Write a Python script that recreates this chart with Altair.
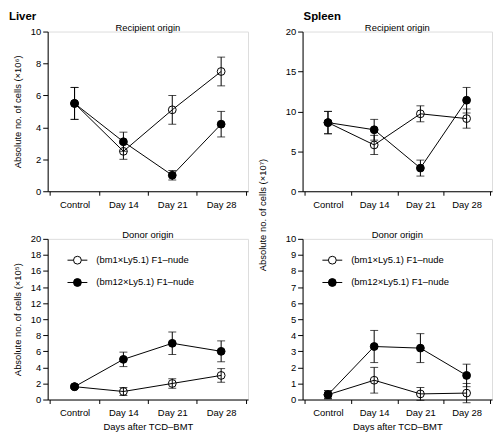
import altair as alt
import pandas as pd

# ---------------- data ----------------
categories = ["Control", "Day 14", "Day 21", "Day 28"]
series_names = ["open", "filled"]
legend_labels = ["(bm1×Ly5.1) F1–nude", "(bm12×Ly5.1) F1–nude"]

# Liver, recipient origin (x10^6)
liver_rec_open = [5.5, 2.5, 5.1, 7.5]
liver_rec_open_err = [1.0, 0.5, 0.9, 0.9]
liver_rec_filled = [5.5, 3.1, 1.0, 4.2]
liver_rec_filled_err = [1.0, 0.6, 0.3, 0.8]

# Spleen, recipient origin (x10^7)
spleen_rec_open = [8.6, 5.8, 9.7, 9.1]
spleen_rec_open_err = [1.4, 1.2, 1.0, 1.2]
spleen_rec_filled = [8.6, 7.7, 2.9, 11.4]
spleen_rec_filled_err = [1.4, 1.3, 1.0, 1.6]

# Liver, donor origin (x10^5)
liver_don_open = [1.6, 1.0, 2.0, 3.0]
liver_don_open_err = [0.2, 0.5, 0.6, 0.85]
liver_don_filled = [1.6, 5.0, 7.0, 6.0]
liver_don_filled_err = [0.2, 0.9, 1.4, 1.3]

# Spleen, donor origin
spleen_don_open = [0.3, 1.2, 0.35, 0.4]
spleen_don_open_err = [0.25, 0.8, 0.4, 0.6]
spleen_don_filled = [0.3, 3.3, 3.2, 1.5]
spleen_don_filled_err = [0.25, 1.0, 0.9, 0.7]

FONT = "Liberation Sans"
FS = 9.5
W_LEFT, W_RIGHT = 202, 191
H_TOP, H_BOTTOM = 161, 162
ROW_GAP, COL_GAP = 48, 55


def make_df(ov, oe, fv, fe):
    rows = []
    for name, vals, errs in (("open", ov, oe), ("filled", fv, fe)):
        for c, v, e in zip(categories, vals, errs):
            rows.append({"cat": c, "series": name, "val": v, "lo": v - e, "hi": v + e})
    return pd.DataFrame(rows)


def text_layer(txt, x, y, **kw):
    return alt.Chart(pd.DataFrame({"t": [txt]})).mark_text(
        font=FONT, color="black", **kw
    ).encode(text="t:N", x=alt.value(x), y=alt.value(y))


def panel(df, ymax, ystep, width, height, ytitle, xtitle, header, header_x, subtitle, legend):
    common = dict(grid=False, labelFont=FONT, titleFont=FONT, labelFontSize=FS,
                  titleFontSize=FS, labelColor="black", titleColor="black",
                  domainColor="black", tickColor="black", titleFontWeight="normal")
    x_axis = alt.Axis(labelAngle=0, tickBand="extent", tickSize=4, labelPadding=4,
                      titlePadding=5, title=xtitle, **common)
    x = alt.X("cat:N", sort=categories,
              scale=alt.Scale(paddingInner=0, paddingOuter=0.05), axis=x_axis)
    y_axis = alt.Axis(values=list(range(0, ymax + 1, ystep)), tickSize=5, labelPadding=2,
                      title=ytitle, titlePadding=8, **common)
    yscale = alt.Scale(domain=[0, ymax], nice=False)

    base = alt.Chart(df)
    lines = base.mark_line(color="black", strokeWidth=1).encode(
        x=x, y=alt.Y("val:Q", scale=yscale, axis=y_axis), detail="series:N")
    rules = base.mark_rule(color="black", strokeWidth=1).encode(
        x=x, y=alt.Y("lo:Q", scale=yscale, axis=y_axis), y2="hi:Q")
    caps_lo = base.mark_tick(color="black", size=8, thickness=1).encode(
        x=x, y=alt.Y("lo:Q", scale=yscale, axis=y_axis))
    caps_hi = base.mark_tick(color="black", size=8, thickness=1).encode(
        x=x, y=alt.Y("hi:Q", scale=yscale, axis=y_axis))
    points = base.mark_circle(size=62, stroke="black", strokeWidth=1, opacity=1).encode(
        x=x, y=alt.Y("val:Q", scale=yscale, axis=y_axis),
        fill=alt.Fill("series:N", scale=alt.Scale(domain=series_names,
                                                  range=["transparent", "black"]),
                      legend=None))

    layers = [lines, points, rules, caps_lo, caps_hi,
              text_layer(subtitle, width / 2, -3.5, fontSize=FS, align="center", baseline="middle")]
    if header:
        layers.append(text_layer(header, header_x, -15, fontSize=11.5, fontWeight="bold",
                                 align="left", baseline="middle"))
    if legend:
        fills = ["white", "black"]
        for i, lab in enumerate(legend_labels):
            yy = 21.5 + i * 22.5
            layers.append(alt.Chart(pd.DataFrame({"t": [lab]})).mark_rule(
                color="black", strokeWidth=1).encode(x=alt.value(20), x2=alt.value(40), y=alt.value(yy)))
            layers.append(alt.Chart(pd.DataFrame({"t": [lab]})).mark_circle(
                size=62, stroke="black", strokeWidth=1, fill=fills[i], opacity=1).encode(
                x=alt.value(30), y=alt.value(yy)))
            layers.append(text_layer(lab, 49, yy, fontSize=FS, align="left", baseline="middle"))
    return alt.layer(*layers).properties(width=width, height=height)


tl = panel(make_df(liver_rec_open, liver_rec_open_err, liver_rec_filled, liver_rec_filled_err),
           10, 2, W_LEFT, H_TOP, "Absolute no. of cells (×10⁶)", None, "Liver", -39,
           "Recipient origin", False)

tr_core = panel(make_df(spleen_rec_open, spleen_rec_open_err, spleen_rec_filled, spleen_rec_filled_err),
                20, 5, W_RIGHT, H_TOP, None, None, "Spleen", 1, "Recipient origin", False)
tr = alt.layer(
    tr_core,
    text_layer("Absolute no. of cells (×10⁷)", -40, H_TOP + ROW_GAP / 2, fontSize=FS, angle=270,
               align="center", baseline="middle"),
)

bl = panel(make_df(liver_don_open, liver_don_open_err, liver_don_filled, liver_don_filled_err),
           20, 2, W_LEFT, H_BOTTOM, "Absolute no. of cells (×10⁵)", "Days after TCD–BMT", None, 0,
           "Donor origin", True)

br = panel(make_df(spleen_don_open, spleen_don_open_err, spleen_don_filled, spleen_don_filled_err),
           10, 1, W_RIGHT, H_BOTTOM, None, "Days after TCD–BMT", None, 0, "Donor origin", True)

chart = alt.concat(
    tl, tr, bl, br, columns=2, spacing={"row": ROW_GAP, "column": COL_GAP}, bounds="flush"
).properties(padding=0).configure_view(stroke=None).configure_axis(
    grid=False, domainWidth=1, tickWidth=1,
).configure(background="white")

chart.save("out.html", embed_options={"renderer": "svg", "actions": False})
